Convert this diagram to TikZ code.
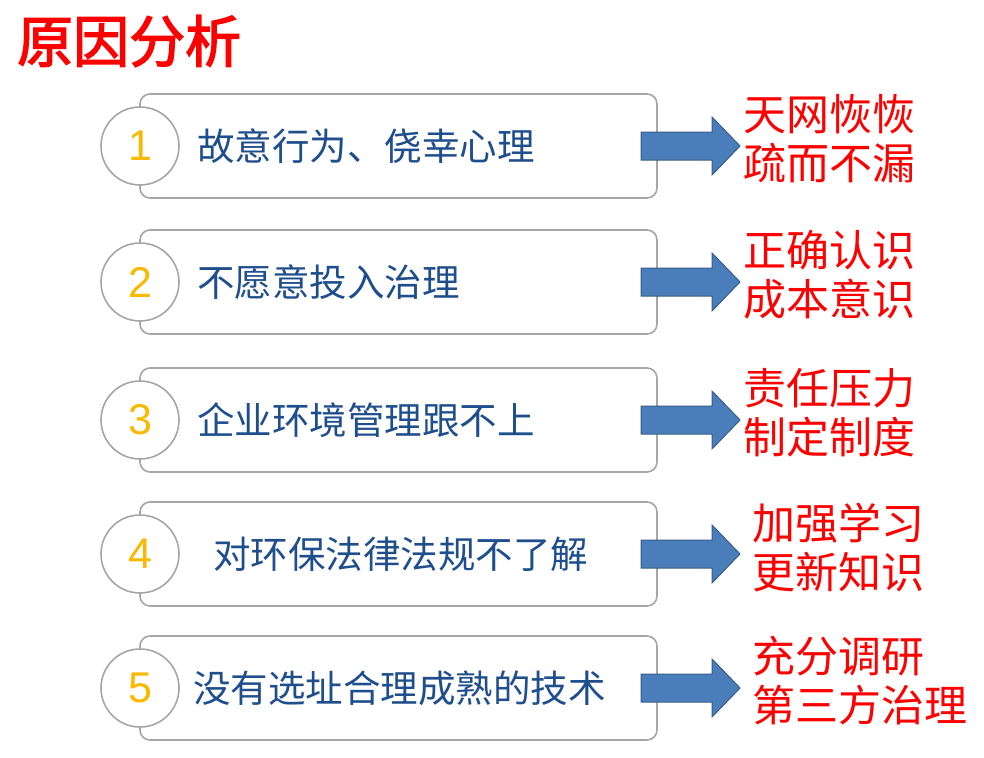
\documentclass[tikz,border=0pt]{standalone}
\usepackage{fontspec}
\setmainfont{Liberation Sans}
\newfontfamily\cjk{Noto Sans CJK SC}
\newfontfamily\cjkbold[FakeBold=2.5]{Noto Sans CJK SC}
\usepackage{tikz}
\usetikzlibrary{positioning}
\definecolor{titlered}{RGB}{255,0,0}
\definecolor{causeblue}{RGB}{31,78,140}
\definecolor{numgold}{RGB}{250,185,0}
\definecolor{framegray}{RGB}{166,166,166}
\definecolor{arrowfill}{RGB}{74,126,187}
\definecolor{arrowline}{RGB}{56,93,138}

\begin{document}
\begin{tikzpicture}[x=1pt, y=-1pt,
    causebox/.style={draw=framegray, line width=1.6pt, rounded corners=10pt},
    numring/.style={circle, draw=framegray, line width=1.6pt, fill=white,
        minimum size=78pt, inner sep=0pt},
    numtext/.style={text=numgold, font=\fontsize{43}{43}\selectfont},
    causetext/.style={anchor=west, inner sep=0pt, text=causeblue,
        font=\cjk\fontsize{37.5}{37.5}\selectfont},
    fixtext/.style={anchor=west, inner sep=0pt, text=titlered, align=left,
        font=\cjk\fontsize{43}{49}\selectfont},
    fatarrow/.style={fill=arrowfill, draw=arrowline, line width=1pt, line join=miter}]
\useasboundingbox (0,0) rectangle (984,757);

% title
\node[anchor=west, inner sep=0pt, text=titlered,
    font=\cjkbold\fontsize{56}{56}\selectfont] (title) at (17,41) {原因分析};

% one row per cause
\foreach \n/\cy/\tx/\cause/\rx/\fixa/\fixb in {
    1/146/197/故意行为、侥幸心理/743/天网恢恢/疏而不漏,
    2/282/197/不愿意投入治理/743/正确认识/成本意识,
    3/420/197/企业环境管理跟不上/743/责任压力/制定制度,
    4/554/213/对环保法律法规不了解/752/加强学习/更新知识,
    5/688/193/没有选址合理成熟的技术/752/充分调研/第三方治理}{
  \draw[causebox] (140,\cy-52) rectangle (657,\cy+52);
  \node[numring] (ring\n) at (140,\cy) {};
  \node[numtext] (num\n) at (ring\n) {\n};
  \node[causetext] (cause\n) at (\tx,\cy) {\cause};
  % block arrow
  \draw[fatarrow] (641,\cy-14) -- (712,\cy-14) -- (712,\cy-29) -- (740,\cy)
      -- (712,\cy+29) -- (712,\cy+14) -- (641,\cy+14) -- cycle;
  \node[fixtext] (fix\n) at (\rx,\cy-7) {\fixa\\\fixb};
}
\end{tikzpicture}
\end{document}
